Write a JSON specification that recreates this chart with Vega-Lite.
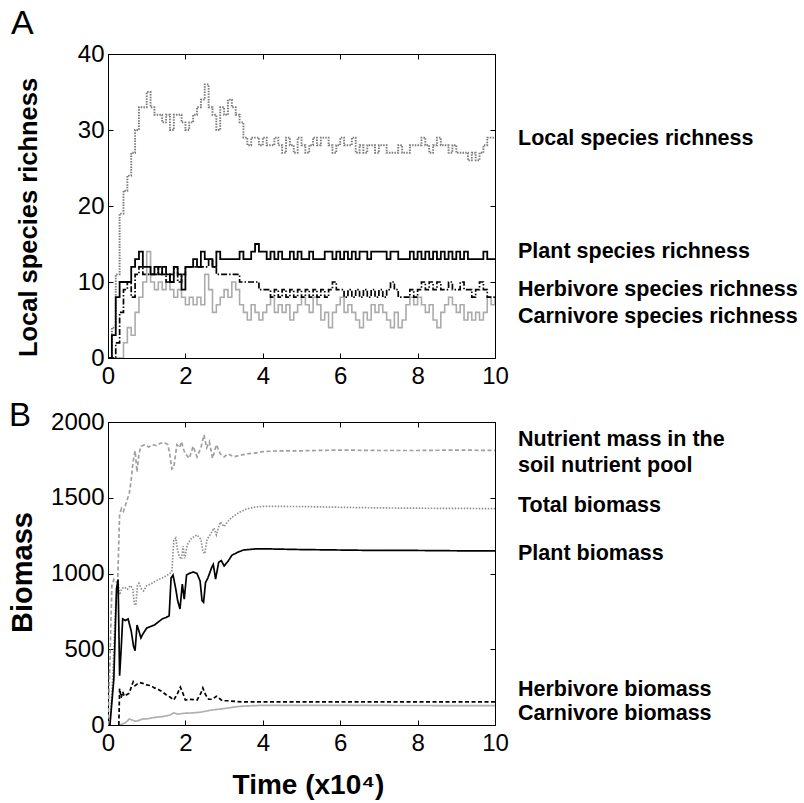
{
  "$schema": "https://vega.github.io/schema/vega-lite/v6.json",
  "background": "white",
  "padding": {"left": 7, "top": 6, "right": 0, "bottom": 0},
  "spacing": 64,
  "bounds": "flush",
  "resolve": {"scale": {"color": "independent", "strokeDash": "independent", "strokeWidth": "independent"}},
  "config": {
    "font": "Liberation Sans",
    "view": {"stroke": "black", "strokeWidth": 1},
    "axis": {
      "labelFont": "Liberation Sans", "labelFontSize": 24, "labelColor": "black",
      "tickColor": "black", "tickSize": -5, "grid": false, "domain": false,
      "titleFont": "Liberation Sans", "titleColor": "black", "titleFontWeight": "bold",
      "labelFlush": false, "labelOverlap": false, "format": "d"
    },
    "axisX": {"labelPadding": 11},
    "axisY": {"labelPadding": 9}
  },
  "datasets": {
    "labelsA": [
      {"x": 10, "y": 28.8, "label": "Local species richness"},
      {"x": 10, "y": 13.95, "label": "Plant species richness"},
      {"x": 10, "y": 9.0, "label": "Herbivore species richness"},
      {"x": 10, "y": 5.4, "label": "Carnivore species richness"}
    ],
    "labelsB": [
      {"x": 10, "y": 1883, "label": "Nutrient mass in the"},
      {"x": 10, "y": 1711, "label": "soil nutrient pool"},
      {"x": 10, "y": 1446, "label": "Total biomass"},
      {"x": 10, "y": 1129, "label": "Plant biomass"},
      {"x": 10, "y": 233, "label": "Herbivore biomass"},
      {"x": 10, "y": 73, "label": "Carnivore biomass"}
    ],
    "rich": [
      {"t":0,"L":0,"P":0,"H":0,"C":0},
      {"t":0.1,"L":4,"P":3,"H":0,"C":0},
      {"t":0.2,"L":11,"P":8,"H":2,"C":0},
      {"t":0.3,"L":19,"P":10,"H":6,"C":0},
      {"t":0.4,"L":22,"P":10,"H":9,"C":2},
      {"t":0.5,"L":24,"P":10,"H":10,"C":4},
      {"t":0.6,"L":27,"P":12,"H":8,"C":3},
      {"t":0.7,"L":30,"P":13,"H":11,"C":6},
      {"t":0.8,"L":33,"P":14,"H":12,"C":8},
      {"t":0.9,"L":33,"P":12,"H":11,"C":10},
      {"t":1.0,"L":35,"P":12,"H":11,"C":14},
      {"t":1.1,"L":33,"P":11,"H":11,"C":10},
      {"t":1.2,"L":32,"P":12,"H":11,"C":9},
      {"t":1.3,"L":32,"P":11,"H":12,"C":10},
      {"t":1.4,"L":31,"P":12,"H":11,"C":9},
      {"t":1.5,"L":32,"P":11,"H":10,"C":10},
      {"t":1.6,"L":30,"P":10,"H":11,"C":9},
      {"t":1.7,"L":32,"P":12,"H":12,"C":8},
      {"t":1.8,"L":32,"P":11,"H":10,"C":9},
      {"t":1.9,"L":31,"P":9,"H":11,"C":8},
      {"t":2.0,"L":30,"P":12,"H":12,"C":7},
      {"t":2.1,"L":31,"P":12,"H":12,"C":8},
      {"t":2.2,"L":32,"P":13,"H":12,"C":7},
      {"t":2.3,"L":33,"P":12,"H":12,"C":8},
      {"t":2.4,"L":34,"P":14,"H":12,"C":7},
      {"t":2.5,"L":36,"P":13,"H":12,"C":11},
      {"t":2.6,"L":33,"P":13,"H":13,"C":9},
      {"t":2.7,"L":32,"P":12,"H":12,"C":6},
      {"t":2.8,"L":30,"P":14,"H":11,"C":7},
      {"t":2.9,"L":33,"P":13,"H":11,"C":8},
      {"t":3.0,"L":32,"P":13,"H":11,"C":9},
      {"t":3.1,"L":34,"P":13,"H":11,"C":8},
      {"t":3.2,"L":33,"P":13,"H":11,"C":10},
      {"t":3.3,"L":32,"P":13,"H":11,"C":9},
      {"t":3.4,"L":31,"P":14,"H":10,"C":7},
      {"t":3.5,"L":29,"P":13,"H":10,"C":6},
      {"t":3.6,"L":28,"P":13,"H":10,"C":5},
      {"t":3.7,"L":29,"P":14,"H":10,"C":7},
      {"t":3.8,"L":29,"P":15,"H":10,"C":6},
      {"t":3.9,"L":28,"P":14,"H":9,"C":5},
      {"t":4.0,"L":29,"P":14,"H":9,"C":6},
      {"t":4.1,"L":28,"P":13,"H":9,"C":7},
      {"t":4.2,"L":28,"P":14,"H":8,"C":8},
      {"t":4.3,"L":29,"P":13,"H":9,"C":6},
      {"t":4.4,"L":28,"P":14,"H":8,"C":7},
      {"t":4.5,"L":27,"P":13,"H":9,"C":6},
      {"t":4.6,"L":29,"P":13,"H":8,"C":7},
      {"t":4.7,"L":28,"P":14,"H":9,"C":5},
      {"t":4.8,"L":27,"P":13,"H":8,"C":6},
      {"t":4.9,"L":29,"P":14,"H":9,"C":7},
      {"t":5.0,"L":28,"P":13,"H":8,"C":8},
      {"t":5.1,"L":27,"P":13,"H":9,"C":7},
      {"t":5.2,"L":28,"P":14,"H":8,"C":6},
      {"t":5.3,"L":29,"P":13,"H":9,"C":8},
      {"t":5.4,"L":28,"P":13,"H":8,"C":7},
      {"t":5.5,"L":29,"P":13,"H":9,"C":5},
      {"t":5.6,"L":29,"P":14,"H":8,"C":6},
      {"t":5.7,"L":28,"P":14,"H":9,"C":4},
      {"t":5.8,"L":27,"P":13,"H":10,"C":6},
      {"t":5.9,"L":28,"P":14,"H":9,"C":7},
      {"t":6.0,"L":29,"P":13,"H":9,"C":8},
      {"t":6.1,"L":28,"P":14,"H":8,"C":6},
      {"t":6.2,"L":28,"P":13,"H":9,"C":7},
      {"t":6.3,"L":29,"P":14,"H":8,"C":6},
      {"t":6.4,"L":27,"P":13,"H":9,"C":5},
      {"t":6.5,"L":28,"P":14,"H":8,"C":4},
      {"t":6.6,"L":27,"P":14,"H":9,"C":6},
      {"t":6.7,"L":28,"P":13,"H":8,"C":5},
      {"t":6.8,"L":28,"P":14,"H":9,"C":7},
      {"t":6.9,"L":27,"P":14,"H":8,"C":6},
      {"t":7.0,"L":28,"P":14,"H":9,"C":7},
      {"t":7.1,"L":28,"P":14,"H":8,"C":6},
      {"t":7.2,"L":27,"P":13,"H":9,"C":5},
      {"t":7.3,"L":27,"P":14,"H":10,"C":4},
      {"t":7.4,"L":27,"P":14,"H":9,"C":6},
      {"t":7.5,"L":28,"P":13,"H":8,"C":4},
      {"t":7.6,"L":27,"P":13,"H":8,"C":5},
      {"t":7.7,"L":27,"P":13,"H":8,"C":7},
      {"t":7.8,"L":28,"P":14,"H":9,"C":8},
      {"t":7.9,"L":28,"P":13,"H":8,"C":7},
      {"t":8.0,"L":28,"P":14,"H":9,"C":8},
      {"t":8.1,"L":29,"P":13,"H":10,"C":7},
      {"t":8.2,"L":28,"P":14,"H":9,"C":6},
      {"t":8.3,"L":27,"P":13,"H":10,"C":7},
      {"t":8.4,"L":28,"P":14,"H":9,"C":5},
      {"t":8.5,"L":29,"P":13,"H":10,"C":4},
      {"t":8.6,"L":28,"P":14,"H":9,"C":6},
      {"t":8.7,"L":28,"P":13,"H":9,"C":7},
      {"t":8.8,"L":27,"P":14,"H":10,"C":8},
      {"t":8.9,"L":28,"P":13,"H":9,"C":7},
      {"t":9.0,"L":27,"P":14,"H":9,"C":6},
      {"t":9.1,"L":27,"P":13,"H":10,"C":7},
      {"t":9.2,"L":27,"P":14,"H":9,"C":5},
      {"t":9.3,"L":26,"P":13,"H":9,"C":6},
      {"t":9.4,"L":27,"P":13,"H":8,"C":5},
      {"t":9.5,"L":26,"P":13,"H":9,"C":6},
      {"t":9.6,"L":27,"P":13,"H":10,"C":5},
      {"t":9.7,"L":28,"P":14,"H":9,"C":6},
      {"t":9.8,"L":29,"P":13,"H":8,"C":8},
      {"t":9.9,"L":29,"P":13,"H":8,"C":7},
      {"t":10.0,"L":29,"P":13,"H":8,"C":8}
    ],
    "bio": [
      {"s":"C","t":0.3,"v":0},{"s":"C","t":0.35,"v":5},{"s":"C","t":0.45,"v":15},{"s":"C","t":0.55,"v":40},{"s":"C","t":0.6,"v":35},{"s":"C","t":0.7,"v":25},{"s":"C","t":0.8,"v":30},{"s":"C","t":0.9,"v":40},{"s":"C","t":1.0,"v":40},{"s":"C","t":1.2,"v":50},{"s":"C","t":1.4,"v":55},{"s":"C","t":1.6,"v":65},{"s":"C","t":1.7,"v":80},{"s":"C","t":1.8,"v":72},{"s":"C","t":1.9,"v":75},{"s":"C","t":2.0,"v":78},{"s":"C","t":2.2,"v":80},{"s":"C","t":2.4,"v":85},{"s":"C","t":2.5,"v":90},{"s":"C","t":2.7,"v":100},{"s":"C","t":2.9,"v":105},{"s":"C","t":3.1,"v":112},{"s":"C","t":3.3,"v":120},{"s":"C","t":3.5,"v":125},{"s":"C","t":3.8,"v":128},{"s":"C","t":4.0,"v":130},{"s":"C","t":10.0,"v":128},
      {"s":"N","t":0,"v":0},{"s":"N","t":0.05,"v":420},{"s":"N","t":0.1,"v":920},{"s":"N","t":0.15,"v":960},{"s":"N","t":0.2,"v":940},{"s":"N","t":0.25,"v":950},{"s":"N","t":0.3,"v":1390},{"s":"N","t":0.35,"v":1430},{"s":"N","t":0.4,"v":1410},{"s":"N","t":0.45,"v":1450},{"s":"N","t":0.5,"v":1490},{"s":"N","t":0.55,"v":1530},{"s":"N","t":0.6,"v":1620},{"s":"N","t":0.65,"v":1740},{"s":"N","t":0.7,"v":1810},{"s":"N","t":0.75,"v":1670},{"s":"N","t":0.8,"v":1790},{"s":"N","t":0.85,"v":1840},{"s":"N","t":0.95,"v":1850},{"s":"N","t":1.05,"v":1835},{"s":"N","t":1.15,"v":1850},{"s":"N","t":1.25,"v":1845},{"s":"N","t":1.35,"v":1860},{"s":"N","t":1.45,"v":1865},{"s":"N","t":1.55,"v":1850},{"s":"N","t":1.6,"v":1780},{"s":"N","t":1.65,"v":1690},{"s":"N","t":1.7,"v":1700},{"s":"N","t":1.78,"v":1850},{"s":"N","t":1.85,"v":1830},{"s":"N","t":1.9,"v":1870},{"s":"N","t":1.95,"v":1820},{"s":"N","t":2.0,"v":1790},{"s":"N","t":2.1,"v":1760},{"s":"N","t":2.2,"v":1840},{"s":"N","t":2.3,"v":1770},{"s":"N","t":2.4,"v":1830},{"s":"N","t":2.48,"v":1915},{"s":"N","t":2.55,"v":1830},{"s":"N","t":2.62,"v":1870},{"s":"N","t":2.7,"v":1760},{"s":"N","t":2.8,"v":1850},{"s":"N","t":2.9,"v":1790},{"s":"N","t":3.0,"v":1770},{"s":"N","t":3.1,"v":1790},{"s":"N","t":3.25,"v":1770},{"s":"N","t":3.4,"v":1780},{"s":"N","t":3.6,"v":1790},{"s":"N","t":3.8,"v":1795},{"s":"N","t":4.0,"v":1805},{"s":"N","t":4.5,"v":1810},{"s":"N","t":5.0,"v":1810},{"s":"N","t":6.0,"v":1815},{"s":"N","t":7.0,"v":1812},{"s":"N","t":8.0,"v":1812},{"s":"N","t":9.0,"v":1815},{"s":"N","t":10.0,"v":1812},
      {"s":"T","t":0.05,"v":0},{"s":"T","t":0.12,"v":300},{"s":"T","t":0.2,"v":800},{"s":"T","t":0.26,"v":950},{"s":"T","t":0.3,"v":860},{"s":"T","t":0.35,"v":900},{"s":"T","t":0.42,"v":910},{"s":"T","t":0.5,"v":895},{"s":"T","t":0.58,"v":920},{"s":"T","t":0.64,"v":900},{"s":"T","t":0.68,"v":800},{"s":"T","t":0.72,"v":790},{"s":"T","t":0.76,"v":920},{"s":"T","t":0.8,"v":935},{"s":"T","t":0.86,"v":900},{"s":"T","t":0.92,"v":885},{"s":"T","t":1.0,"v":920},{"s":"T","t":1.1,"v":930},{"s":"T","t":1.2,"v":945},{"s":"T","t":1.3,"v":960},{"s":"T","t":1.4,"v":970},{"s":"T","t":1.5,"v":985},{"s":"T","t":1.6,"v":1000},{"s":"T","t":1.65,"v":1015},{"s":"T","t":1.7,"v":1220},{"s":"T","t":1.75,"v":1235},{"s":"T","t":1.8,"v":1150},{"s":"T","t":1.85,"v":1110},{"s":"T","t":1.9,"v":1095},{"s":"T","t":1.94,"v":1180},{"s":"T","t":1.98,"v":1100},{"s":"T","t":2.05,"v":1190},{"s":"T","t":2.15,"v":1230},{"s":"T","t":2.3,"v":1255},{"s":"T","t":2.4,"v":1225},{"s":"T","t":2.45,"v":1150},{"s":"T","t":2.5,"v":1130},{"s":"T","t":2.56,"v":1225},{"s":"T","t":2.65,"v":1260},{"s":"T","t":2.74,"v":1300},{"s":"T","t":2.8,"v":1255},{"s":"T","t":2.9,"v":1340},{"s":"T","t":3.0,"v":1310},{"s":"T","t":3.1,"v":1345},{"s":"T","t":3.2,"v":1370},{"s":"T","t":3.4,"v":1405},{"s":"T","t":3.6,"v":1428},{"s":"T","t":3.8,"v":1438},{"s":"T","t":4.0,"v":1443},{"s":"T","t":5.0,"v":1442},{"s":"T","t":6.0,"v":1437},{"s":"T","t":7.0,"v":1433},{"s":"T","t":8.0,"v":1431},{"s":"T","t":9.0,"v":1430},{"s":"T","t":10.0,"v":1428},
      {"s":"H","t":0.28,"v":0},{"s":"H","t":0.3,"v":240},{"s":"H","t":0.34,"v":180},{"s":"H","t":0.38,"v":220},{"s":"H","t":0.42,"v":190},{"s":"H","t":0.48,"v":200},{"s":"H","t":0.55,"v":210},{"s":"H","t":0.6,"v":250},{"s":"H","t":0.65,"v":285},{"s":"H","t":0.7,"v":260},{"s":"H","t":0.75,"v":270},{"s":"H","t":0.82,"v":280},{"s":"H","t":0.9,"v":275},{"s":"H","t":1.0,"v":265},{"s":"H","t":1.1,"v":260},{"s":"H","t":1.2,"v":245},{"s":"H","t":1.3,"v":235},{"s":"H","t":1.4,"v":220},{"s":"H","t":1.5,"v":200},{"s":"H","t":1.6,"v":185},{"s":"H","t":1.7,"v":165},{"s":"H","t":1.8,"v":210},{"s":"H","t":1.87,"v":250},{"s":"H","t":1.95,"v":200},{"s":"H","t":2.0,"v":165},{"s":"H","t":2.1,"v":170},{"s":"H","t":2.3,"v":165},{"s":"H","t":2.4,"v":210},{"s":"H","t":2.45,"v":245},{"s":"H","t":2.52,"v":200},{"s":"H","t":2.6,"v":170},{"s":"H","t":2.7,"v":170},{"s":"H","t":2.8,"v":190},{"s":"H","t":2.88,"v":175},{"s":"H","t":2.95,"v":160},{"s":"H","t":3.1,"v":160},{"s":"H","t":3.3,"v":155},{"s":"H","t":3.5,"v":152},{"s":"H","t":4.0,"v":152},{"s":"H","t":10.0,"v":152},
      {"s":"P","t":0.05,"v":0},{"s":"P","t":0.15,"v":300},{"s":"P","t":0.22,"v":900},{"s":"P","t":0.26,"v":960},{"s":"P","t":0.3,"v":325},{"s":"P","t":0.34,"v":500},{"s":"P","t":0.38,"v":700},{"s":"P","t":0.45,"v":690},{"s":"P","t":0.52,"v":700},{"s":"P","t":0.6,"v":620},{"s":"P","t":0.66,"v":520},{"s":"P","t":0.7,"v":490},{"s":"P","t":0.75,"v":660},{"s":"P","t":0.8,"v":620},{"s":"P","t":0.85,"v":575},{"s":"P","t":0.9,"v":600},{"s":"P","t":1.0,"v":640},{"s":"P","t":1.1,"v":650},{"s":"P","t":1.2,"v":660},{"s":"P","t":1.3,"v":680},{"s":"P","t":1.4,"v":700},{"s":"P","t":1.5,"v":710},{"s":"P","t":1.58,"v":720},{"s":"P","t":1.63,"v":970},{"s":"P","t":1.68,"v":990},{"s":"P","t":1.75,"v":900},{"s":"P","t":1.8,"v":820},{"s":"P","t":1.86,"v":766},{"s":"P","t":1.92,"v":930},{"s":"P","t":1.97,"v":830},{"s":"P","t":2.03,"v":990},{"s":"P","t":2.1,"v":1000},{"s":"P","t":2.2,"v":1010},{"s":"P","t":2.3,"v":1000},{"s":"P","t":2.38,"v":950},{"s":"P","t":2.43,"v":820},{"s":"P","t":2.47,"v":810},{"s":"P","t":2.52,"v":940},{"s":"P","t":2.58,"v":970},{"s":"P","t":2.68,"v":1040},{"s":"P","t":2.72,"v":1060},{"s":"P","t":2.78,"v":963},{"s":"P","t":2.86,"v":1074},{"s":"P","t":2.93,"v":1085},{"s":"P","t":3.0,"v":1050},{"s":"P","t":3.1,"v":1080},{"s":"P","t":3.2,"v":1120},{"s":"P","t":3.35,"v":1140},{"s":"P","t":3.5,"v":1155},{"s":"P","t":3.8,"v":1162},{"s":"P","t":4.0,"v":1163},{"s":"P","t":5.0,"v":1158},{"s":"P","t":6.0,"v":1155},{"s":"P","t":7.0,"v":1152},{"s":"P","t":8.0,"v":1152},{"s":"P","t":9.0,"v":1150},{"s":"P","t":10.0,"v":1150}
    ]
  },
  "vconcat": [
    {
      "width": 387,
      "height": 304,
      "title": {"text": "A", "anchor": "start", "frame": "group", "fontSize": 34, "fontWeight": "normal", "color": "black", "baseline": "alphabetic", "dx": -97, "offset": -26},
      "layer": [
        {
          "data": {"name": "rich"},
          "transform": [{"fold": ["C", "L", "H", "P"], "as": ["s", "v"]}],
          "mark": {"type": "line", "interpolate": "step-after", "clip": true},
          "encoding": {
            "x": {"field": "t", "type": "quantitative", "scale": {"domain": [0, 10], "nice": false, "zero": false},
                  "axis": {"orient": "bottom", "values": [0, 2, 4, 6, 8, 10], "title": null}},
            "y": {"field": "v", "type": "quantitative", "scale": {"domain": [0, 40], "nice": false},
                  "axis": {"orient": "left", "values": [0, 10, 20, 30, 40], "title": "Local species richness", "titleFontSize": 25.5, "titleAngle": -90, "titleBaseline": "alphabetic", "titleAlign": "center", "titleX": -72, "titleY": 163}},
            "color": {"field": "s", "type": "nominal", "scale": {"domain": ["L", "P", "H", "C"], "range": ["#7a7a7a", "#000000", "#000000", "#ababab"]}, "legend": null},
            "strokeDash": {"field": "s", "type": "nominal", "scale": {"domain": ["L", "P", "H", "C"], "range": [[1.5, 1.2], [1, 0], [6, 2, 1.5, 2], [1, 0]]}, "legend": null},
            "strokeWidth": {"field": "s", "type": "nominal", "scale": {"domain": ["L", "P", "H", "C"], "range": [1.9, 1.6, 1.4, 2.6]}, "legend": null}
          }
        },
        {
          "data": {"name": "labelsA"},
          "mark": {"type": "text", "align": "left", "baseline": "middle", "dx": 23, "fontSize": 21.5, "fontWeight": "bold", "color": "black", "font": "Liberation Sans"},
          "encoding": {
            "x": {"field": "x", "type": "quantitative", "scale": {"domain": [0, 10], "nice": false, "zero": false},
                  "axis": {"orient": "top", "values": [0, 2, 4, 6, 8, 10], "labels": false, "title": null}},
            "y": {"field": "y", "type": "quantitative", "scale": {"domain": [0, 40], "nice": false},
                  "axis": {"orient": "right", "values": [0, 10, 20, 30, 40], "labels": false, "title": null}},
            "text": {"field": "label", "type": "nominal"}
          }
        }
      ],
      "resolve": {"axis": {"x": "independent", "y": "independent"}}
    },
    {
      "width": 387,
      "height": 303,
      "title": {"text": "B", "anchor": "start", "frame": "group", "fontSize": 33, "fontWeight": "normal", "color": "black", "baseline": "alphabetic", "dx": -99, "offset": -49},
      "layer": [
        {
          "data": {"name": "bio"},
          "mark": {"type": "line", "clip": true},
          "encoding": {
            "x": {"field": "t", "type": "quantitative", "scale": {"domain": [0, 10], "nice": false, "zero": false},
                  "axis": {"orient": "bottom", "values": [0, 2, 4, 6, 8, 10], "title": "Time (x10⁴)", "titleFontSize": 28, "titleBaseline": "alphabetic", "titleAlign": "center", "titleX": 200, "titleY": 68}},
            "y": {"field": "v", "type": "quantitative", "scale": {"domain": [0, 2000], "nice": false},
                  "axis": {"orient": "left", "values": [0, 500, 1000, 1500, 2000], "title": "Biomass", "titleFontSize": 29, "titleAngle": -90, "titleBaseline": "alphabetic", "titleAlign": "center", "titleX": -77, "titleY": 150}},
            "detail": {"field": "s"},
            "color": {"field": "s", "type": "nominal", "scale": {"domain": ["N", "T", "P", "H", "C"], "range": ["#a0a0a0", "#8f8f8f", "#000000", "#000000", "#b0b0b0"]}, "legend": null},
            "strokeDash": {"field": "s", "type": "nominal", "scale": {"domain": ["N", "T", "P", "H", "C"], "range": [[4, 2.5], [1.5, 1.5], [1, 0], [4, 2.5], [1, 0]]}, "legend": null},
            "strokeWidth": {"field": "s", "type": "nominal", "scale": {"domain": ["N", "T", "P", "H", "C"], "range": [1.7, 1.7, 1.6, 1.4, 1.6]}, "legend": null}
          }
        },
        {
          "data": {"name": "labelsB"},
          "mark": {"type": "text", "align": "left", "baseline": "middle", "dx": 23, "fontSize": 21.5, "fontWeight": "bold", "color": "black", "font": "Liberation Sans"},
          "encoding": {
            "x": {"field": "x", "type": "quantitative", "scale": {"domain": [0, 10], "nice": false, "zero": false},
                  "axis": {"orient": "top", "values": [0, 2, 4, 6, 8, 10], "labels": false, "title": null}},
            "y": {"field": "y", "type": "quantitative", "scale": {"domain": [0, 2000], "nice": false},
                  "axis": {"orient": "right", "values": [0, 500, 1000, 1500, 2000], "labels": false, "title": null}},
            "text": {"field": "label", "type": "nominal"}
          }
        }
      ],
      "resolve": {"axis": {"x": "independent", "y": "independent"}}
    }
  ]
}
